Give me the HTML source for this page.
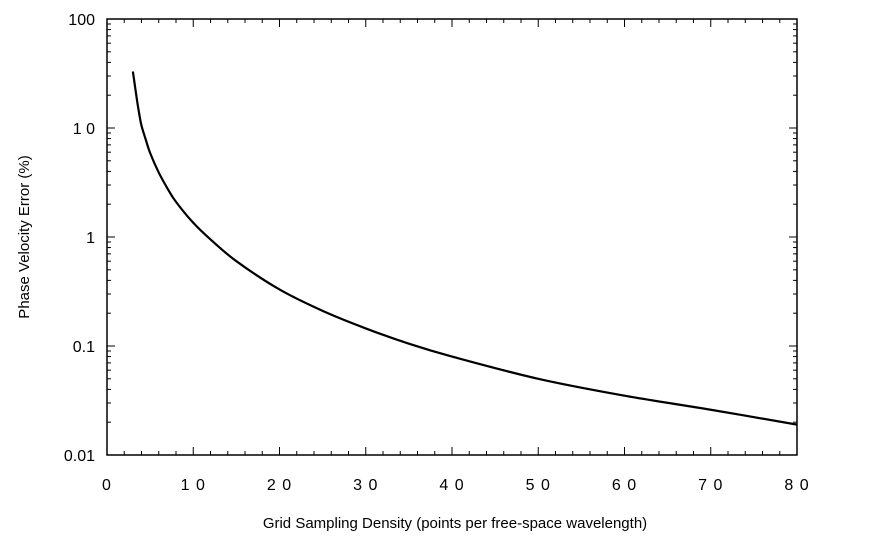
<!DOCTYPE html>
<html><head><meta charset="utf-8"><style>
body{margin:0;background:#fff;}
svg text{font-family:"Liberation Sans",Arial,sans-serif;fill:#000;}
</style></head><body>
<svg id="chart" width="877" height="554" viewBox="0 0 877 554">
<g id="axes"></g>
<path id="curve" fill="none" stroke="#000" stroke-width="2.2"></path>
<text x="455" y="528" text-anchor="middle" font-size="15">Grid Sampling Density (points per free-space wavelength)</text>
<text transform="translate(29,237) rotate(-90)" text-anchor="middle" font-size="15">Phase Velocity Error (%)</text>
</svg>
<script>
const xTicks=[0,10,20,30,40,50,60,70,80];
const xLabels=["0","1 0","2 0","3 0","4 0","5 0","6 0","7 0","8 0"];
const yTicks=[0.01,0.1,1,10,100];
const yLabels=["0.01","0.1","1","1 0","100"];
const densities=[3,3.25,3.5,3.75,4,4.5,5,6,7,8,10,12,15,20,25,30,35,40,50,60,70,80];
const errors=[33,24,17.5,13.3,10.5,7.8,5.9,3.9,2.8,2.1,1.35,0.95,0.6,0.33,0.21,0.145,0.105,0.08,0.05,0.035,0.026,0.019];
const L=107,R=797,T=19,B=455;
const X=v=>L+(v-0)/80*(R-L);
const Y=v=>B-(Math.log10(v)+2)/4*(B-T);
const ns="http://www.w3.org/2000/svg";
const ax=document.getElementById('axes');
function mk(tag,attrs){const e=document.createElementNS(ns,tag);for(const k in attrs)e.setAttribute(k,attrs[k]);ax.appendChild(e);return e;}
const frame=mk('rect',{x:L,y:T,width:R-L,height:B-T,fill:'none',stroke:'#000','stroke-width':1.5});


for(let v=0;v<=80;v+=2){
  const len=v%10===0?8:4;
  mk('line',{x1:X(v),x2:X(v),y1:B,y2:B-len,stroke:'#000','stroke-width':1});
  mk('line',{x1:X(v),x2:X(v),y1:T,y2:T+len,stroke:'#000','stroke-width':1});
}
for(let d=-2;d<2;d++){for(let m=1;m<=10;m++){const v=m*Math.pow(10,d);const len=(m===1||m===10)?8:4;
  mk('line',{x1:L,x2:L+len,y1:Y(v),y2:Y(v),stroke:'#000','stroke-width':1});
  mk('line',{x1:R,x2:R-len,y1:Y(v),y2:Y(v),stroke:'#000','stroke-width':1});}}
xTicks.forEach((v,i)=>{const t=mk('text',{x:X(v),y:B+35,'text-anchor':'middle','font-size':16,'letter-spacing':'1'});t.textContent=xLabels[i];
  
  });
yTicks.forEach((v,i)=>{const t=mk('text',{x:L-12,y:Y(v)+6,'text-anchor':'end','font-size':16});t.textContent=yLabels[i];
  
  });
const pts=densities.map((d,i)=>[X(d),Y(errors[i])]);
let p=`M${pts[0][0]},${pts[0][1]}`;
for(let i=0;i<pts.length-1;i++){const p0=pts[i-1]||pts[i],p1=pts[i],p2=pts[i+1],p3=pts[i+2]||p2;
  p+=` C${p1[0]+(p2[0]-p0[0])/6},${p1[1]+(p2[1]-p0[1])/6} ${p2[0]-(p3[0]-p1[0])/6},${p2[1]-(p3[1]-p1[1])/6} ${p2[0]},${p2[1]}`;}
document.getElementById('curve').setAttribute('d',p);
</script>
</body></html>
